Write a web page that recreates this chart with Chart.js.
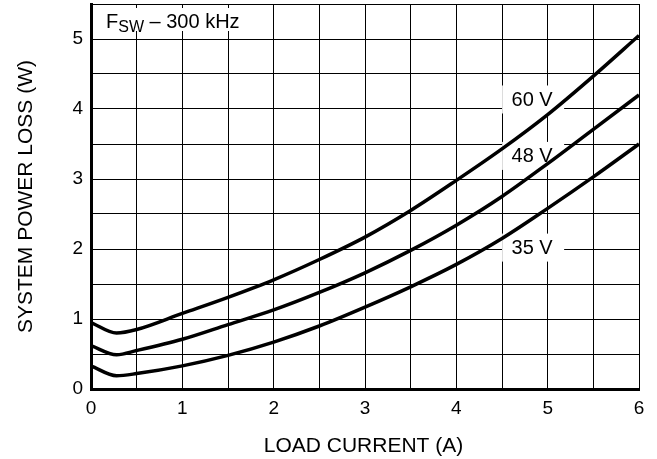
<!DOCTYPE html>
<html><head><meta charset="utf-8">
<script src="https://cdn.jsdelivr.net/npm/chart.js@4/dist/chart.umd.min.js"></script>
<style>html,body{margin:0;padding:0;background:#fff}#wrap{width:657px;height:459px}</style>
</head><body><div id="wrap"><canvas id="c" width="657" height="459"></canvas></div>
<script>
const loadCurrent = [0, 0.28, 0.5, 1, 1.5, 2, 2.5, 3, 3.5, 4, 4.5, 5, 5.5, 6];
const loss60V = [0.95, 0.80, 0.85, 1.08, 1.31, 1.56, 1.85, 2.17, 2.55, 2.98, 3.43, 3.92, 4.47, 5.05];
const loss48V = [0.62, 0.49, 0.55, 0.71, 0.92, 1.13, 1.38, 1.66, 1.98, 2.34, 2.75, 3.22, 3.71, 4.20];
const loss35V = [0.33, 0.19, 0.22, 0.33, 0.48, 0.67, 0.90, 1.17, 1.46, 1.78, 2.15, 2.58, 3.03, 3.50];
const seriesNames = ['60 V', '48 V', '35 V'];
const xTitle = 'LOAD CURRENT (A)';
const yTitle = 'SYSTEM POWER LOSS (W)';

const FONT = '"Liberation Sans", Arial, sans-serif';
const mk = (ys) => loadCurrent.map((x, i) => ({x: x, y: ys[i]}));

const labelPlugin = {
  id: 'labels',
  beforeDatasetsDraw(chart) {
    const ctx = chart.ctx, xs = chart.scales.x, ys = chart.scales.y;
    ctx.save();
    const spots = [[4.83, 4.136], [4.83, 3.33], [4.83, 2.02]];
    ctx.font = '20px ' + FONT;
    ctx.textAlign = 'center';
    ctx.textBaseline = 'middle';
    spots.forEach((p, i) => {
      const cx = xs.getPixelForValue(p[0]);
      const cy = ys.getPixelForValue(p[1]);
      ctx.fillStyle = '#fff';
      ctx.fillRect(cx - 30, cy - 14, 62, 28);
      ctx.fillStyle = '#000';
      ctx.fillText(seriesNames[i], cx, cy + 1);
    });
    const a = chart.chartArea;
    ctx.fillStyle = '#fff';
    ctx.fillRect(a.left + 2, a.top + 4, 168, 23);
    ctx.fillStyle = '#000';
    ctx.textAlign = 'left';
    ctx.textBaseline = 'alphabetic';
    let x = a.left + 15, base = a.top + 24;
    ctx.font = '20px ' + FONT;
    ctx.fillText('F', x, base);
    x += ctx.measureText('F').width;
    ctx.font = '16px ' + FONT;
    ctx.fillText('SW', x, base + 4);
    x += ctx.measureText('SW').width;
    ctx.font = '20px ' + FONT;
    ctx.fillText(' \u2013 300 kHz', x, base);
    ctx.restore();
  },
  afterDraw(chart) {
    const ctx = chart.ctx, a = chart.chartArea;
    ctx.save();
    ctx.fillStyle = '#000';
    ctx.font = '21px ' + FONT;
    ctx.textAlign = 'center';
    ctx.textBaseline = 'middle';
    ctx.fillText(xTitle, 363.5, 446);
    ctx.translate(26, (a.top + a.bottom) / 2);
    ctx.rotate(-Math.PI / 2);
    ctx.fillText(yTitle, 0, 0);
    ctx.restore();
  }
};

new Chart(document.getElementById('c'), {
  type: 'line',
  data: {
    datasets: [
      {label: seriesNames[0], data: mk(loss60V)},
      {label: seriesNames[1], data: mk(loss48V)},
      {label: seriesNames[2], data: mk(loss35V)}
    ].map(d => Object.assign(d, {borderColor: '#000', borderWidth: 3.5, pointRadius: 0, fill: false, cubicInterpolationMode: 'monotone'}))
  },
  options: {
    responsive: false,
    animation: false,
    layout: {padding: {left: 0, top: 4, right: 18, bottom: 0}},
    plugins: {legend: {display: false}, tooltip: {enabled: false}},
    scales: {
      x: {
        type: 'linear', min: 0, max: 6,
        afterFit: s => { s.height = 70; s.paddingLeft = 0; s.paddingRight = 0; },
        ticks: {stepSize: 0.5, autoSkip: false, maxRotation: 0, padding: 8, color: '#000',
          font: {size: 19, family: FONT},
          callback: v => Number.isInteger(v) ? String(v) : ''},
        grid: {color: '#000', lineWidth: 1, drawTicks: false},
        border: {color: '#000', width: 3}
      },
      y: {
        min: 0, max: 5.5,
        afterFit: s => { s.width = 91; s.paddingTop = 0; s.paddingBottom = 0; },
        ticks: {stepSize: 0.5, autoSkip: false, padding: 8, color: '#000',
          font: {size: 19, family: FONT},
          callback: v => Number.isInteger(v) ? String(v) : ''},
        grid: {color: '#000', lineWidth: 1, drawTicks: false},
        border: {color: '#000', width: 3}
      }
    }
  },
  plugins: [labelPlugin]
});
</script></body></html>
